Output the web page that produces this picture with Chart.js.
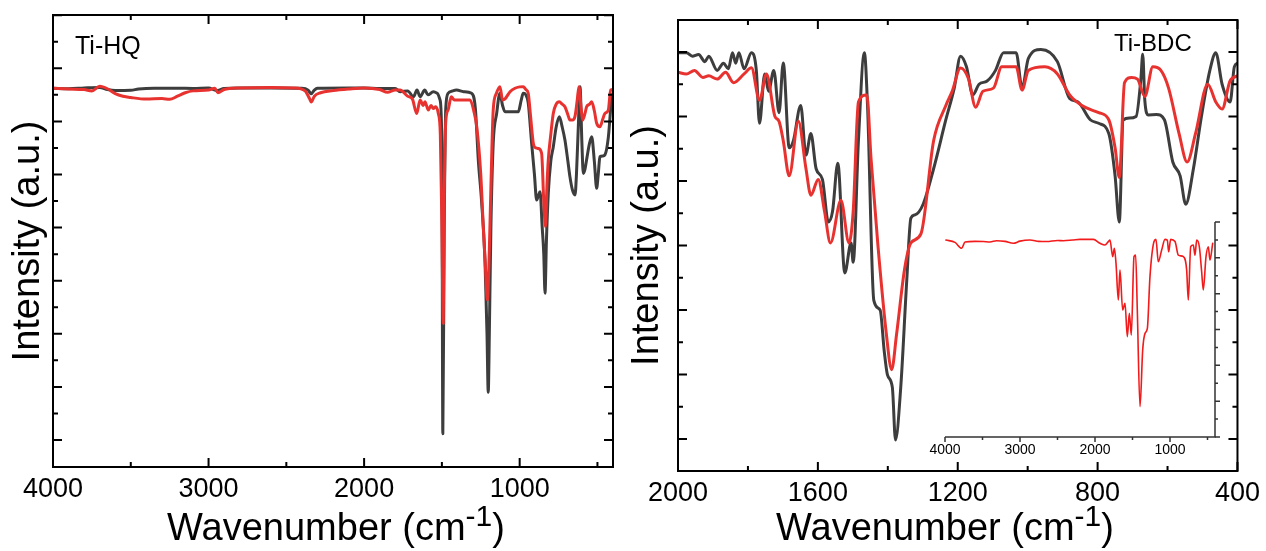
<!DOCTYPE html>
<html>
<head>
<meta charset="UTF-8">
<title>FTIR Ti-HQ / Ti-BDC</title>
<script src="https://cdn.jsdelivr.net/npm/chart.js"></script>
<style>
  body { margin: 0; background: #fff; }
  .wrap { position: relative; width: 1266px; height: 551px; }
  canvas { position: absolute; top: 0; }
  #hq { left: 0; }
  #bdc { left: 620px; }
  #inset { left: 900px; top: 200px; }
</style>
</head>
<body>
<div class="wrap">
  <canvas id="hq" width="640" height="551"></canvas>
  <canvas id="bdc" width="646" height="551"></canvas>
  <canvas id="inset" width="340" height="270"></canvas>
</div>
<script>
// ---- Ti-HQ (left panel) ----
const hqXLabels = [4000, 3000, 2000, 1000];
const hqGrayWn = [4000,3900,3800,3700,3650,3600,3500,3450,3350,3200,3100,3000,2950,2900,2800,2600,2400,2360,2340,2320,2300,2100,2000,1900,1800,1769,1720,1683,1660,1640,1610,1590,1555,1530,1512,1500,1494,1485,1475,1460,1430,1405,1360,1309,1285,1266,1245,1223,1210,1202,1195,1185,1170,1148,1127,1110,1094,1060,1030,1009,990,977,960,945,923,905,891,880,869,855,845,837,828,816,800,784,765,745,727,709,690,677,660,644,635,623,612,600,591,580,570,550,537,520,505,495,484,465,452,430,419,408];
const hqGrayVal = [132.5,132.3,132.6,132.8,132.0,131.6,131.7,132.2,132.5,132.5,132.4,132.6,131.6,132.4,132.6,132.6,132.5,131.8,130.4,131.8,132.5,132.6,132.6,132.4,132.4,131.2,131.5,129.3,131.8,129.3,131.8,130.0,131.2,130.6,128.1,110,2.4,80,125,130.6,131.5,131.8,131.2,130.6,125,105.5,90,67.8,40,18.0,40,80,111.7,123.0,130.6,126,123.6,123.6,123.6,123.6,128,130.6,130,127,111.7,100,90.4,92,93.5,80,70,55.3,75,92.9,105,110.4,118,121.8,118,113.0,105,99.2,94,92.3,100,118.0,133.1,112,100.4,102,105.5,112,114.2,105,94.8,100,106.7,107,107.4,114,121.8,130];
const hqRedWn = [4000,3900,3800,3750,3700,3650,3600,3550,3500,3400,3300,3250,3200,3150,3100,3000,2960,2940,2900,2800,2600,2450,2380,2350,2340,2320,2280,2200,2100,2000,1900,1850,1800,1769,1720,1690,1662,1640,1620,1609,1587,1570,1555,1540,1523,1510,1500,1491,1485,1475,1460,1440,1420,1400,1340,1319,1295,1276,1250,1234,1220,1208,1198,1185,1170,1150,1127,1110,1094,1062,1030,1000,977,960,945,930,912,895,880,859,845,834,825,816,800,784,765,745,727,709,690,677,660,644,630,619,605,595,580,570,550,537,520,505,484,465,452,430,415,400];
const hqRedVal = [132.5,132.2,132.0,131.5,133.2,132.3,130.5,129.5,129.0,128.4,128.6,128.3,129.5,130.8,131.5,131.8,132.5,130.8,132.0,132.6,132.8,132.6,131.5,128.5,127.3,129.5,130.8,131.6,132.2,132.6,132.0,131.0,131.8,131.8,129.5,128.5,123.0,128.1,126.0,127.4,124.3,126,124.9,125.5,123.0,115,80,43.9,90,120,124.3,129.3,128.1,128.1,128.1,128.1,124,118,100,80.3,65,52.7,65,95,124.3,130.5,133.1,128.1,128.5,131.2,132.5,133,133.1,132,130.6,122,111.7,110,109.8,108.0,90,80.3,95,105.5,115,123.0,126.5,127.4,126.5,125.5,122.5,120.5,120.5,122,128,133.1,125,120.5,123,125.5,126.5,127.4,124,119.3,118.0,121,123.0,124.3,131.8,132];

// ---- Ti-BDC (right panel) ----
const bdcXLabels = [2000, 1600, 1200, 800, 400];
const bdcGrayWn = [2000,1976,1959,1941,1923,1912,1888,1870,1856,1844,1835,1826,1811,1790,1776,1767,1752,1741,1726,1711,1699,1682,1670,1649,1634,1620,1605,1587,1570,1558,1543,1523,1505,1499,1484,1467,1458,1440,1422,1410,1401,1387,1378,1363,1346,1334,1322,1299,1269,1234,1210,1192,1175,1157,1139,1116,1092,1069,1033,1016,998,962,915,880,856,821,797,768,750,738,727,709,690,676,671,665,655,632,609,585,564,548,526,503,479,462,444,421,409,400];
const bdcGrayVal = [119.8,119.8,118.7,119.2,117,118.7,114.3,116.5,114.8,119.8,116.5,119.8,114.8,119.8,114.3,97.9,113.2,107.8,114.3,101.2,116.6,90.3,92.5,103.4,88,94.7,83.8,80.5,67.3,70.6,85.5,51.5,60.8,54.8,92.5,119.8,103.4,43,40,27,19.9,16,-0.3,16,48.8,68.5,69.5,72.8,83.8,99,108.8,118.7,115.4,106.7,110,111,114.3,119.8,119.8,108.8,118,120.8,117,105.6,104.5,99,97.9,94.7,81.6,67.3,98.9,99.5,100,112,119.3,105,100.5,100.6,99,85.9,81.6,72.8,83.8,100.1,114.3,119.8,110,104.5,115.4,116.5];
const bdcRedWn = [2000,1976,1953,1929,1912,1888,1864,1841,1811,1790,1767,1747,1723,1711,1699,1682,1656,1634,1620,1599,1581,1564,1534,1511,1499,1484,1460,1448,1428,1404,1389,1375,1352,1334,1305,1269,1234,1216,1192,1169,1149,1128,1098,1074,1033,1016,998,951,915,880,845,797,768,750,738,723,703,686,665,642,619,597,567,544,520,485,462,444,421,400];
const bdcRedVal = [113.7,113.2,114.3,112.1,112.6,111.6,113.7,110.5,113.2,115.1,105,113.2,100.1,98.5,92.5,81.6,98.5,83.8,75.6,80.5,70.6,60.8,74.0,60.8,70.6,104.5,106.7,87,59.7,32.4,21.5,32.4,52.7,60.8,63.7,92.5,103.4,107.8,115,111.6,102.9,107.8,108.8,115.4,115.4,108.2,114.3,115.4,113.2,106.7,103.4,101.2,99,90.3,81.1,110.5,112.1,111.6,106.2,115.4,114.3,108.8,94.7,85.9,94.7,110,104.5,102.3,111.1,112.6];

// ---- inset (full range, red) ----
const insetXLabels = [4000, 3000, 2000, 1000];
const insetWn = [3987,3867,3778,3733,3600,3489,3400,3311,3200,3089,3000,2867,2750,2644,2500,2422,2300,2200,2022,1933,1867,1822,1800,1764,1742,1720,1689,1667,1631,1600,1569,1542,1516,1480,1458,1436,1400,1364,1333,1302,1267,1213,1187,1156,1111,1067,1036,1018,991,933,889,822,778,756,724,689,667,644,609,578,556,520,489,467,431];
const insetVal = [91.6,90.5,87.8,90.7,91.0,90.9,90.7,91.3,91.0,90.1,91.1,91.6,91.0,90.9,91.4,91.3,91.6,91.9,91.9,90.1,89.3,90.9,91.6,83.9,87.8,80.8,63.7,77.7,59.1,62.2,46.7,57.5,47.4,83.9,84.6,59.1,14.1,40.5,48.2,50.5,74.6,90.9,91.9,81.5,87.0,91.9,91.6,86.2,91.9,90.9,84.6,83.9,77.7,63.7,88.5,89.3,84.6,91.6,88.5,76.9,68.4,83.9,88.5,82.3,90.1];

const FONT = '"Liberation Sans", Arial, Helvetica, sans-serif';
const GRAY = '#3d3d3d';
const RED = '#e8322f';
Chart.defaults.font.family = FONT;
Chart.defaults.color = '#000';

function pts(xs, ys) {
  return xs.map((x, i) => ({ x: x, y: ys[i] }));
}

function tickList(min, max, step, ratio) {
  const out = [];
  for (let k = Math.ceil(min / step - 1e-6); k * step <= max + 1e-6; k++) {
    out.push({ v: k * step, major: k % ratio === 0 });
  }
  return out;
}

// box and tick marks drawn on the scales
const frame = {
  id: 'frame',
  afterDatasetsDraw(chart, args, o) {
    const { ctx, chartArea: a } = chart;
    const xs = chart.scales.x, ys = chart.scales.y;
    const d = o.inward ? 1 : -1;
    ctx.save();
    ctx.strokeStyle = o.color;
    ctx.lineWidth = o.lineWidth;
    ctx.beginPath();
    if (o.box) {
      ctx.rect(a.left, a.top, a.right - a.left, a.bottom - a.top);
    } else {
      ctx.moveTo(a.left, a.bottom);
      ctx.lineTo(a.right, a.bottom);
      ctx.lineTo(a.right, a.top);
    }
    ctx.stroke();
    ctx.beginPath();
    tickList(xs.min, xs.max, o.xStep, o.xRatio).forEach(t => {
      const p = xs.getPixelForValue(t.v);
      const len = t.major ? o.major : o.minor;
      if (o.sides.includes('bottom')) { ctx.moveTo(p, a.bottom); ctx.lineTo(p, a.bottom - d * len); }
      if (o.sides.includes('top')) { ctx.moveTo(p, a.top); ctx.lineTo(p, a.top + d * len); }
    });
    tickList(o.yFrom, ys.max, o.yStep, o.yRatio).forEach(t => {
      const p = ys.getPixelForValue(t.v);
      const len = t.major ? o.major : o.minor;
      if (o.sides.includes('left')) { ctx.moveTo(a.left, p); ctx.lineTo(a.left + d * len, p); }
      if (o.sides.includes('right')) { ctx.moveTo(a.right, p); ctx.lineTo(a.right - d * len, p); }
    });
    ctx.stroke();
    ctx.restore();
  }
};

// x title with the raised "-1"
const xTitle = {
  id: 'xTitle',
  afterDraw(chart, args, o) {
    if (!o.text) return;
    const ctx = chart.ctx;
    const big = o.size + 'px ' + FONT;
    const small = Math.round(o.size * 0.8) + 'px ' + FONT;
    ctx.save();
    ctx.fillStyle = '#000';
    ctx.textBaseline = 'alphabetic';
    ctx.font = big;
    const w1 = ctx.measureText(o.text).width;
    const w3 = ctx.measureText(')').width;
    ctx.font = small;
    const w2 = ctx.measureText(o.sup).width;
    let x = o.cx - (w1 + w2 + w3) / 2;
    ctx.font = big;
    ctx.fillText(o.text, x, o.y);
    x += w1;
    ctx.font = small;
    ctx.fillText(o.sup, x, o.y - o.size * 0.36);
    x += w2;
    ctx.font = big;
    ctx.fillText(')', x, o.y);
    ctx.restore();
  }
};

const tag = {
  id: 'tag',
  afterDraw(chart, args, o) {
    if (!o.text) return;
    const ctx = chart.ctx;
    ctx.save();
    ctx.font = o.size + 'px ' + FONT;
    ctx.fillStyle = '#000';
    ctx.fillText(o.text, o.x, o.y);
    ctx.restore();
  }
};

function panel(id, cfg) {
  return new Chart(document.getElementById(id), {
    type: 'line',
    data: { datasets: cfg.datasets },
    plugins: [frame, xTitle, tag],
    options: {
      responsive: false,
      animation: false,
      devicePixelRatio: 1,
      events: [],
      layout: { padding: cfg.padding },
      elements: {
        point: { radius: 0 },
        line: { cubicInterpolationMode: 'monotone', borderJoinStyle: 'round', borderCapStyle: 'round' }
      },
      scales: {
        x: {
          type: 'linear', reverse: true, min: cfg.xMin, max: cfg.xMax,
          grid: { display: false, drawTicks: false }, border: { display: false },
          ticks: { font: { size: cfg.tickSize }, color: '#000', padding: cfg.tickPad, maxRotation: 0, autoSkip: false,
            callback: v => String(v) },
          afterBuildTicks: s => { s.ticks = cfg.xLabels.map(v => ({ value: v })); },
          afterFit: s => { s.height = cfg.xHeight; }
        },
        y: {
          type: 'linear', min: cfg.yMin, max: cfg.yMax, display: cfg.yWidth > 0,
          grid: { display: false, drawTicks: false }, border: { display: false },
          ticks: { display: false },
          title: { display: !!cfg.yTitle, text: cfg.yTitle, color: '#000', font: { size: 38 }, padding: { top: cfg.yTitlePad, bottom: 0 } },
          afterFit: s => { s.width = cfg.yWidth; }
        }
      },
      plugins: {
        legend: { display: false },
        tooltip: { enabled: false },
        frame: cfg.frame,
        xTitle: cfg.xTitle || {},
        tag: cfg.tag || {}
      }
    }
  });
}

panel('hq', {
  datasets: [
    { data: pts(hqRedWn, hqRedVal), borderColor: RED, borderWidth: 3, order: 0 },
    { data: pts(hqGrayWn, hqGrayVal), borderColor: GRAY, borderWidth: 3, order: 1 }
  ],
  padding: { left: 0, top: 15, right: 27, bottom: 0 },
  xMin: 400, xMax: 4000, xLabels: hqXLabels, xHeight: 84, tickSize: 27, tickPad: 6,
  yMin: -10.17, yMax: 160.08, yWidth: 53, yTitle: 'Intensity (a.u.)', yTitlePad: 6,
  frame: { box: true, inward: true, color: '#000', lineWidth: 2, sides: ['left', 'right', 'top', 'bottom'],
    xStep: 500, xRatio: 2, yFrom: 0, yStep: 10, yRatio: 2, major: 9, minor: 5 },
  xTitle: { text: 'Wavenumber (cm', sup: '-1', size: 38, cx: 336, y: 540 },
  tag: { text: 'Ti-HQ', size: 25, x: 75, y: 54 }
});

panel('bdc', {
  datasets: [
    { data: pts(bdcRedWn, bdcRedVal), borderColor: RED, borderWidth: 3, order: 0 },
    { data: pts(bdcGrayWn, bdcGrayVal), borderColor: GRAY, borderWidth: 3, order: 1 }
  ],
  padding: { left: 0, top: 20, right: 28, bottom: 0 },
  xMin: 400, xMax: 2000, xLabels: bdcXLabels, xHeight: 80, tickSize: 27, tickPad: 6,
  yMin: -9.92, yMax: 129.92, yWidth: 58, yTitle: 'Intensity (a.u.)', yTitlePad: 5,
  frame: { box: true, inward: true, color: '#000', lineWidth: 2, sides: ['left', 'right', 'top', 'bottom'],
    xStep: 200, xRatio: 2, yFrom: 0, yStep: 10, yRatio: 2, major: 9, minor: 5 },
  xTitle: { text: 'Wavenumber (cm', sup: '-1', size: 38, cx: 325, y: 540 },
  tag: { text: 'Ti-BDC', size: 24, x: 494, y: 51 }
});

panel('inset', {
  datasets: [
    { data: pts(insetWn, insetVal), borderColor: '#f21a1a', borderWidth: 1.6 }
  ],
  padding: { left: 45, top: 22, right: 25, bottom: 0 },
  xMin: 400, xMax: 4000, xLabels: insetXLabels, xHeight: 33, tickSize: 14, tickPad: 5,
  yMin: 0, yMax: 100, yWidth: 0, yTitle: '', yTitlePad: 0,
  frame: { box: false, inward: false, color: '#333', lineWidth: 1.5, sides: ['right', 'bottom'],
    xStep: 500, xRatio: 2, yFrom: 0, yStep: 100 / 12, yRatio: 2, major: 5, minor: 3 }
});
</script>
</body>
</html>
